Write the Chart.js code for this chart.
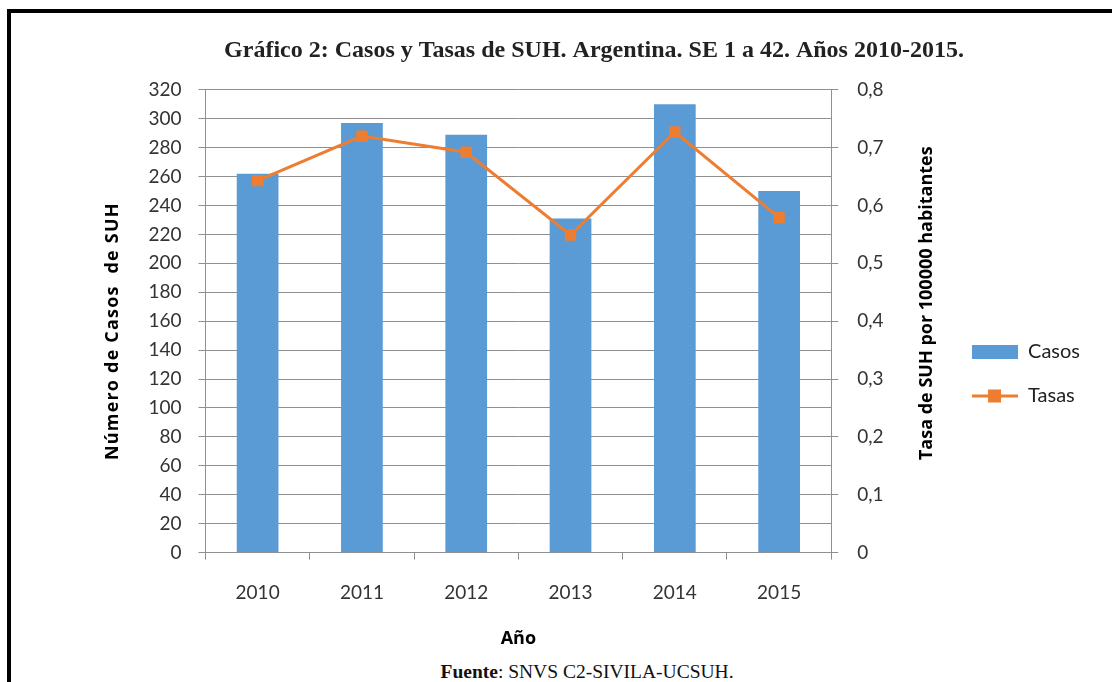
<!DOCTYPE html>
<html lang="es">
<head>
<meta charset="utf-8">
<title>Gráfico 2: Casos y Tasas de SUH</title>
<script src="https://cdn.jsdelivr.net/npm/chart.js@4.4.1/dist/chart.umd.min.js"></script>
<style>
  html, body { margin: 0; padding: 0; background: #fff; width: 1112px; height: 682px; overflow: hidden; }
  #marco { position: absolute; left: 7px; top: 9px; right: -10px; bottom: -10px; border-top: 4px solid #000; border-left: 4px solid #000; }
  #lienzo { position: absolute; left: 62px; top: 14px; width: 1050px; height: 644px; }
  #fuente { position: absolute; left: 62px; width: 1050px; top: 661px; text-align: center; font-family: 'Liberation Serif', serif; font-size: 19.5px; color: #111; }
</style>
</head>
<body>
<div id="marco"></div>
<div id="lienzo"><canvas id="myChart"></canvas></div>
<div id="fuente"><b>Fuente</b>: SNVS C2-SIVILA-UCSUH.</div>
<script>
const anios = ['2010', '2011', '2012', '2013', '2014', '2015'];
const casos = [262, 297, 289, 231, 310, 250];
const tasas = [0.643, 0.72, 0.692, 0.549, 0.727, 0.579];

const titulo = 'Gráfico 2: Casos y Tasas de SUH. Argentina. SE 1 a 42. Años 2010-2015.';
const tituloIzq = 'Número de Casos  de SUH';
const tituloDer = 'Tasa de SUH por 100000 habitantes';
const tituloX = 'Año';

const azul = '#5B9BD5';
const naranja = '#ED7D31';
const gris = '#8f8f8f';
const fuenteEje = 'bold 18px "Open Sans"';

// iconos de la leyenda
function iconoBarra() {
  const c = document.createElement('canvas');
  c.width = 46; c.height = 14;
  const g = c.getContext('2d');
  g.fillStyle = azul;
  g.fillRect(0, 0, 46, 14);
  return c;
}
function iconoLinea() {
  const c = document.createElement('canvas');
  c.width = 46; c.height = 14;
  const g = c.getContext('2d');
  g.fillStyle = naranja;
  g.fillRect(0, 5.5, 46, 3);
  g.fillRect(16, 0.5, 13, 13);
  return c;
}

// titulos de ejes leyendo de abajo hacia arriba (como en el original)
const titulosEjes = {
  id: 'titulosEjes',
  afterDraw(chart) {
    const {ctx, chartArea, scales} = chart;
    const medio = (chartArea.top + chartArea.bottom) / 2;
    const izq = scales.y.options.title.padding.top;
    const der = scales.y1.options.title.padding.top;
    ctx.save();
    ctx.font = fuenteEje;
    ctx.fillStyle = '#000';
    ctx.textAlign = 'center';
    ctx.textBaseline = 'middle';

    ctx.save();
    ctx.letterSpacing = '1.2px';
    ctx.translate(scales.y.left + izq + 11, medio + 10);
    ctx.rotate(-Math.PI / 2);
    ctx.fillText(tituloIzq, 0, 0);
    ctx.restore();

    ctx.save();
    ctx.translate(scales.y1.right - der - 11, medio - 18);
    ctx.rotate(-Math.PI / 2);
    ctx.fillText(tituloDer, 0, 0);
    ctx.restore();

    ctx.restore();
  }
};

const ctx = document.getElementById('myChart');

const data = {
  labels: anios,
  datasets: [{
    type: 'bar',
    label: 'Casos',
    data: casos,
    backgroundColor: azul,
    yAxisID: 'y',
    order: 2,
    barPercentage: 0.4,
    categoryPercentage: 1
  }, {
    type: 'line',
    label: 'Tasas',
    data: tasas,
    borderColor: naranja,
    backgroundColor: naranja,
    borderWidth: 3,
    pointStyle: 'rect',
    pointRadius: 8,
    pointBackgroundColor: naranja,
    pointBorderWidth: 0,
    yAxisID: 'y1',
    order: 1
  }]
};

const config = {
  type: 'bar',
  data: data,
  options: {
    responsive: true,
    maintainAspectRatio: false,
    animation: false,
    layout: { padding: { left: 36, right: 22, top: 0, bottom: 4 } },
    plugins: {
      title: {
        display: true,
        text: titulo,
        color: '#222',
        font: { family: 'Liberation Serif', size: 24, weight: 'bold' },
        padding: { top: 22, bottom: 25 }
      },
      legend: {
        position: 'right',
        title: { display: true, text: ' ', padding: { top: 68, bottom: 0 }, font: { size: 10 } },
        labels: {
          usePointStyle: true,
          pointStyleWidth: 46,
          padding: 24,
          color: '#222',
          font: { family: 'Lato', size: 20 },
          generateLabels: () => [
            { text: 'Casos', pointStyle: iconoBarra(), datasetIndex: 0, fontColor: '#222' },
            { text: 'Tasas', pointStyle: iconoLinea(), datasetIndex: 1, fontColor: '#222' }
          ]
        }
      },
      tooltip: { enabled: false }
    },
    scales: {
      x: {
        grid: { display: true, drawOnChartArea: false, color: gris, tickLength: 7, offset: true },
        border: { color: gris },
        ticks: { color: '#333', padding: 22, font: { family: 'Lato', size: 19 } },
        title: { display: true, text: tituloX, color: '#000', font: { family: 'Open Sans', size: 18, weight: 'bold' }, padding: { top: 2, bottom: 4 } }
      },
      y: {
        position: 'left',
        min: 0,
        max: 320,
        grid: { color: gris, tickLength: 7 },
        border: { color: gris },
        ticks: { stepSize: 20, color: '#333', padding: 17, font: { family: 'Lato', size: 19 } },
        title: { display: true, text: tituloIzq, color: 'transparent', font: { family: 'Open Sans', size: 17, weight: 'bold' }, padding: { top: 4, bottom: 9 } }
      },
      y1: {
        position: 'right',
        min: 0,
        max: 0.8,
        grid: { drawOnChartArea: false, color: gris, tickLength: 7 },
        border: { color: gris },
        ticks: {
          stepSize: 0.1,
          color: '#333',
          padding: 19,
          font: { family: 'Lato', size: 19 },
          callback: v => String(Math.round(v * 10) / 10).replace('.', ',')
        },
        title: { display: true, text: tituloDer, color: 'transparent', font: { family: 'Open Sans', size: 17, weight: 'bold' }, padding: { top: 10, bottom: 15 } }
      }
    }
  },
  plugins: [titulosEjes]
};

const myChart = new Chart(ctx, config);
</script>
</body>
</html>
